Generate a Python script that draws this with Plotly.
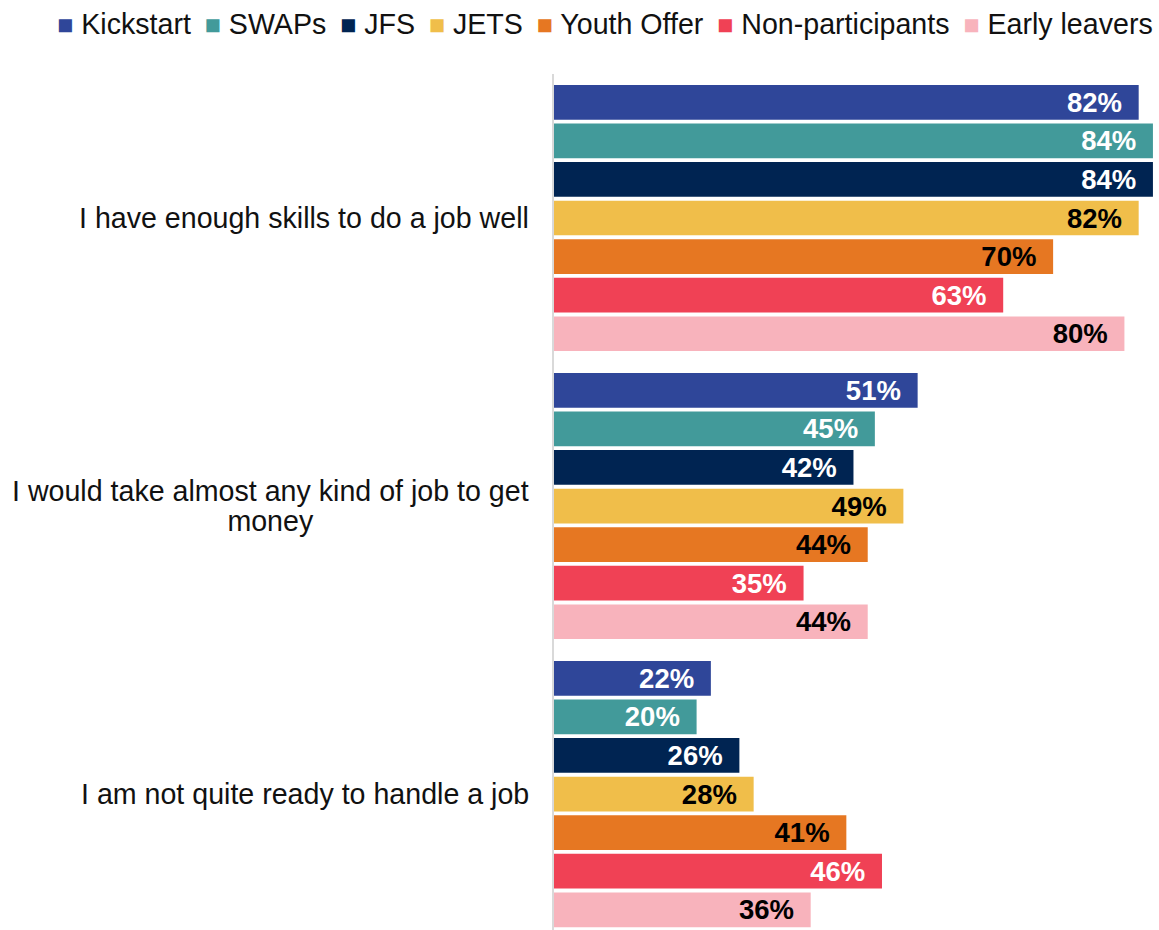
import plotly.graph_objects as go

# Survey statements (top to bottom)
categories = [
    "I have enough skills to do a job well",
    "I would take almost any kind of job to get money",
    "I am not quite ready to handle a job",
]
# Wrapped versions of the statements used as axis labels
category_lines = [
    ["I have enough skills to do a job well"],
    ["I would take almost any kind of job to get", "money"],
    ["I am not quite ready to handle a job"],
]

programmes = ["Kickstart", "SWAPs", "JFS", "JETS", "Youth Offer", "Non-participants", "Early leavers"]
colors = ["#2F4699", "#429A9A", "#002452", "#F0BE4A", "#E67722", "#F04155", "#F8B3BC"]
label_colors = ["white", "white", "white", "black", "black", "white", "black"]

# Share agreeing (%) per programme, in category order
kickstart = [82, 51, 22]
swaps = [84, 45, 20]
jfs = [84, 42, 26]
jets = [82, 49, 28]
youth_offer = [70, 44, 41]
non_participants = [63, 35, 46]
early_leavers = [80, 44, 36]

series = [kickstart, swaps, jfs, jets, youth_offer, non_participants, early_leavers]

FONT = "Liberation Sans, Arial, sans-serif"
LABEL_SIZE = 28.6

fig = go.Figure()
for name, vals, col, lcol in zip(programmes, series, colors, label_colors):
    fig.add_trace(go.Bar(
        y=categories,
        x=vals,
        orientation="h",
        name=name,
        marker=dict(color=col, line=dict(width=0)),
        text=[f"{v}%\u2002" for v in vals],
        textposition="inside",
        insidetextanchor="end",
        constraintext="none",
        textfont=dict(family=FONT, size=27.5, color=lcol, weight="bold"),
        showlegend=False,
        hoverinfo="skip",
    ))

# Category labels, centred lines to the left of the axis
# (line spacing is driven by the annotation font size, glyphs by the span size)
for cat, lines in zip(categories, category_lines):
    text = "<br>".join(
        f"<span style='font-size:{LABEL_SIZE}px'>{line}</span>" for line in lines
    )
    fig.add_annotation(
        x=0, xref="paper", xanchor="right", xshift=-23,
        y=cat, yref="y", yanchor="middle",
        text=text, showarrow=False, align="center",
        font=dict(family=FONT, size=23, color="#111111"),
    )

# Legend row along the top
legend_text = " \u2009".join(
    f"<span style='color:{c};font-size:27px'>\u25A0</span> {n}"
    for n, c in zip(programmes, colors)
)
fig.add_annotation(
    x=1, xref="paper", xanchor="right", xshift=-4,
    y=1 + (74 - 24) / 856, yref="paper", yanchor="middle",
    text=legend_text, showarrow=False,
    font=dict(family=FONT, size=LABEL_SIZE, color="#111111"),
)

fig.update_layout(
    width=1159, height=930,
    margin=dict(l=554, r=0, t=74, b=0, pad=0),
    barmode="group",
    bargap=0.0625,
    bargroupgap=0.1,
    plot_bgcolor="white",
    paper_bgcolor="white",
    font=dict(family=FONT),
)
fig.update_xaxes(range=[0, 84.85], showgrid=False, zeroline=False,
                 showticklabels=False, showline=False, ticks="")
fig.update_yaxes(range=[2.472, -0.5], showgrid=False, zeroline=False,
                 showticklabels=False, ticks="", showline=True,
                 linecolor="#D9D9D9", linewidth=2)

fig.write_html("out.html")
